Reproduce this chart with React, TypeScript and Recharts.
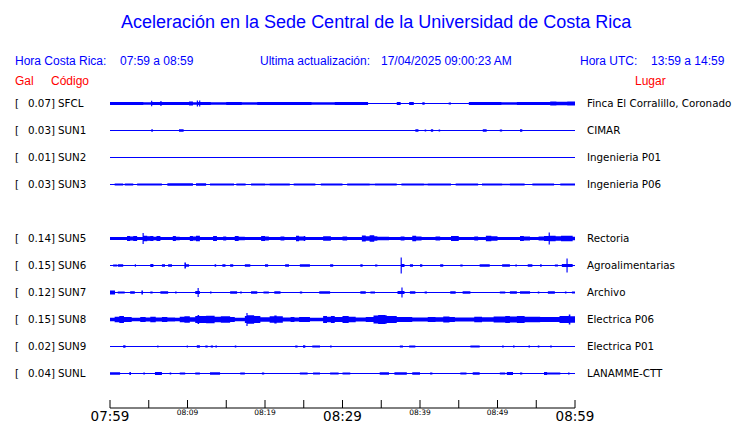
import { ComposedChart, Area, XAxis, YAxis } from "recharts";

// stations, top to bottom (SUN4 slot is left empty)
const codes = ["SFCL", "SUN1", "SUN2", "SUN3", "SUN5", "SUN6", "SUN7", "SUN8", "SUN9", "SUNL"];
const galPeaks = [0.07, 0.03, 0.01, 0.03, 0.14, 0.15, 0.12, 0.15, 0.02, 0.04];
const places = [
  "Finca El Corralillo, Coronado",
  "CIMAR",
  "Ingenieria P01",
  "Ingenieria P06",
  "Rectoria",
  "Agroalimentarias",
  "Archivo",
  "Electrica P06",
  "Electrica P01",
  "LANAMME-CTT",
];
const slots = [0, 1, 2, 3, 5, 6, 7, 8, 9, 10];

const timeTicks = [0, 5, 10, 15, 20, 25, 30, 35, 40, 45, 50, 55, 60];
const timeLabels = ["07:59", "", "08:09", "", "08:19", "", "08:29", "", "08:39", "", "08:49", "", "08:59"];

// trace envelopes: [minute where it changes, half amplitude]
const sfcl = [[0,1.5],[4.3,1.3],[5.3,2.8],[5.45,1.5],[6.5,2.6],[6.65,1.4],[10.2,1.9],[10.7,1.3],[11.2,3],[11.35,1.4],[11.5,3],[11.65,1.5],[13,1.2],[15,1.5],[17,1.3],[19,1.6],[21,1.4],[24,1.6],[26,1.3],[29,1.5],[31,1.4],[33.3,0.5],[37,1.4],[37.5,0.5],[38.6,1.6],[39.2,0.6],[40.3,1.2],[40.6,0.6],[43.7,1],[44,0.6],[46.3,1.4],[49,1.6],[50.5,1.3],[52.5,1.6],[56.8,2.1],[57.6,1.7],[59,2]];
const sun1 = [[0,0.5],[5.35,1.5],[5.5,0.5],[8.9,1.3],[9.5,0.5],[39.4,1.2],[39.8,0.5],[40.6,1],[40.8,0.5],[41.4,1.2],[41.7,0.5],[42.4,1],[42.6,0.5],[48.1,1.2],[48.6,0.5],[50.3,1],[50.6,0.5],[52.9,1.3],[53.2,0.5]];
const sun2 = [[0,0.5]];
const sun3 = [[0,0.6],[0.6,1],[1.7,0.6],[1.9,1],[3,0.6],[3.5,1],[6.7,0.6],[7.4,1.2],[10.7,0.6],[11.1,1.2],[12.4,0.6],[12.9,1],[16,0.6],[16.3,1],[17.5,0.6],[18.2,1],[20,0.7],[20.6,1.1],[23.2,0.6],[23.7,1],[26.5,0.6],[27.2,1.1],[30,0.6],[30.6,1],[33.5,0.7],[34.2,1],[37,0.6],[37.6,1.1],[40.5,0.7],[41,1],[44,0.6],[44.6,1.1],[47.5,0.6],[48,1],[50.6,0.7],[51.6,1],[53.5,0.6],[54.5,1.1],[57.3,0.6],[58.1,1]];
const sun5 = [[0,1.6],[2.2,2.6],[2.6,2],[3,2.6],[3.5,1.6],[4.2,5.5],[4.35,2.8],[4.8,2.2],[5.2,2.6],[5.6,1.8],[6,2.6],[6.5,1.6],[8.1,2.4],[8.5,1.8],[9,1.6],[10.3,2.6],[10.7,2],[11.1,2.7],[11.6,1.6],[13.3,2.4],[13.8,1.6],[14.6,2],[15,1.6],[16.1,2.4],[16.6,1.8],[17.4,1.6],[19.5,2.5],[20,1.9],[20.5,1.6],[22,2],[22.5,1.6],[24,2.7],[24.4,2],[25,2.4],[25.2,1.6],[27.5,2.3],[28.5,1.6],[30,2],[30.6,1.6],[32.5,3],[33,2.3],[33.5,3.2],[34.1,2.2],[34.5,1.8],[36,1.6],[37.5,2],[38,1.6],[39,2.8],[39.5,2],[40.2,1.6],[42,2],[42.6,1.6],[44,2.4],[45,1.6],[47,2],[47.5,1.6],[48.5,2.7],[49.2,2.2],[50,1.6],[52.9,2.6],[53.4,2],[54.2,1.6],[55.3,2.1],[56,2.4],[56.6,6],[56.75,2.8],[57.5,2.2],[58.2,2.8],[59.7,1.8]];
const sun6 = [[0,0.5],[0.4,1],[0.9,0.5],[1,1.3],[1.7,0.5],[3.2,1.2],[3.35,0.5],[5.2,1.5],[5.6,0.5],[6.7,1.2],[7.1,0.5],[7.5,1.2],[8,0.5],[9.6,3],[9.8,1.3],[10.2,0.5],[13.5,1.2],[13.7,0.5],[14.5,1.2],[14.9,0.5],[15.5,1.3],[15.9,0.5],[17.4,1.3],[18.1,0.5],[20,1.2],[20.4,0.5],[22.6,1.3],[23.1,0.5],[24.5,1.3],[25.8,0.5],[28.4,1.2],[28.8,0.5],[32.3,1.2],[32.6,0.5],[34.2,1],[34.5,0.5],[37.5,8],[37.65,1.5],[38,0.5],[38.7,1.3],[39.1,0.5],[40,1.2],[40.3,0.5],[42.6,1.2],[43,0.5],[45.2,1],[45.5,0.5],[47.7,1.3],[49,0.5],[50.6,1.3],[51.6,0.5],[52.3,1],[52.5,0.5],[53.9,1.3],[54.5,0.5],[55.5,1.2],[55.7,0.5],[57.4,1],[57.8,0.5],[58.3,1.5],[58.9,7],[59.05,1.5],[59.7,0.5]];
const sun7 = [[0,2],[0.65,0.5],[1,1],[1.9,0.5],[2.6,1.2],[3.2,0.5],[4.05,2],[4.25,0.5],[5.2,1],[5.5,0.5],[6.5,1.2],[7.5,0.5],[8.4,1],[8.6,0.5],[11,1.5],[11.3,4.5],[11.45,1.5],[11.6,0.5],[12.9,1],[13.1,0.5],[15.5,1.2],[16.4,0.5],[16.8,1],[17,0.5],[18.2,1.2],[19,0.5],[19.8,1],[20.5,0.5],[21.2,1.2],[22,0.5],[24.5,1],[24.8,0.5],[27,1.2],[28.4,0.5],[32.3,1.2],[33,0.5],[33.6,1],[34.2,0.5],[37.1,1.5],[37.6,5],[37.75,1.5],[38,0.5],[38.7,1.2],[39.4,0.5],[40.6,1],[40.9,0.5],[43.9,1.2],[44.6,0.5],[45.5,1.2],[46.5,0.5],[50.3,1],[51,0.5],[51.6,1.3],[52.5,0.5],[52.9,1.2],[54.2,0.5],[55.2,1],[55.4,0.5],[56.5,1.2],[57.4,0.5],[58.7,1],[58.9,0.5],[59.6,1]];
const sun8 = [[0,1.8],[0.6,2.8],[1.2,3.4],[1.8,2.6],[2.8,1.8],[3.9,2.6],[4.6,2.1],[5.2,2.8],[5.9,2],[6.7,2.6],[7.4,2.1],[8.4,1.8],[9,2.8],[9.6,3.3],[10.3,2.2],[11,3.6],[11.3,4.5],[11.5,3.4],[12.4,3.8],[13.5,2.8],[14.3,3.2],[15.5,2.4],[16.1,1.8],[17.4,3.5],[17.6,6.5],[17.75,4.2],[18.6,3.4],[19.4,2.3],[20.6,3.3],[21.2,4],[21.5,3.2],[22.3,2],[23.3,2.6],[23.8,2],[24.4,2.6],[25.8,1.8],[27.5,3.4],[28,2.8],[28.5,3.6],[29,2.4],[30,3.4],[30.8,2.8],[31.7,2],[33,2.4],[34,4],[34.6,4.6],[35.5,4.2],[35.7,3.4],[37,2.4],[39,2],[41,2.6],[42,2.2],[43,3],[43.8,2.6],[44.5,2.1],[47,2.8],[48,2.3],[49.5,3],[51,3.5],[51.6,3],[52.5,3.6],[53.5,2.8],[55.5,2.4],[58,3.4],[59.2,5],[59.4,3.2]];
const sun9 = [[0,0.5],[1.7,1.2],[2,0.5],[6.1,0.9],[6.25,0.5],[9.9,0.9],[10.05,0.5],[11.2,1.2],[11.6,0.5],[12.3,1],[12.6,0.5],[13,1],[13.3,0.5],[13.6,1],[13.8,0.5],[16.1,0.9],[16.3,0.5],[23.9,1],[24.2,0.5],[24.9,1.2],[25.2,0.5],[26.1,1],[27.1,0.5],[28.4,1],[28.6,0.5],[37.4,1],[37.8,0.5],[38.6,1],[39.4,0.5],[46.5,1.1],[47.7,0.5],[50.6,1],[50.8,0.5],[52,1],[52.2,0.5],[54,1],[54.2,0.5],[55.2,1],[55.4,0.5],[56.8,1],[57,0.5]];
const sunl = [[0,1.2],[1.3,0.5],[2.5,1.5],[2.7,0.5],[4.3,1],[4.5,0.5],[5.8,1.5],[6.7,0.5],[7.7,1],[7.9,0.5],[9,1],[9.7,0.5],[11,1],[11.6,0.5],[12.9,1.2],[14.2,0.5],[16.8,1],[17.4,0.5],[19.6,1],[19.9,0.5],[24.5,1.1],[25.5,0.5],[26.2,1.1],[27.1,0.5],[28.4,1],[29.5,0.5],[30,1.1],[31,0.5],[34.8,1.2],[36,0.5],[36.7,1.2],[38.3,0.5],[39,1.2],[40,0.5],[41.3,1],[41.6,0.5],[45.2,1.1],[46,0.5],[46.8,1.2],[47.7,0.5],[50.3,1],[51,0.5],[51.2,1.5],[52,0.5],[52.9,1],[53.2,0.5],[56,1.5],[56.4,1],[58.1,0.5],[59.1,1],[59.3,0.5]];

const traces = [sfcl, sun1, sun2, sun3, sun5, sun6, sun7, sun8, sun9, sunl];

const BLUE = "#0000ff";
const SPACING = 27;
const FIRST = 27.5;
const Y_MAX = 332;
const baselines = slots.map((s) => FIRST + SPACING * s);

function toPoints(segs: number[][], base: number) {
  const pts = segs.map(([t, a]) => ({ t, lo: base - a, hi: base + a }));
  const last = segs[segs.length - 1][1];
  pts.push({ t: 60, lo: base - last, hi: base + last });
  return pts;
}

const LeftTick = (props: any) => {
  const { x, y, payload } = props;
  const i = baselines.indexOf(payload.value);
  if (i < 0) return null;
  return (
    <g fontFamily="DejaVu Sans" fontSize={10.3} fill="#000">
      <text x={x - 95} y={y} dy="0.36em">[</text>
      <text x={x - 55} y={y} dy="0.36em" textAnchor="end">
        {galPeaks[i].toFixed(2)}]
      </text>
      <text x={x - 52} y={y} dy="0.36em">{codes[i]}</text>
    </g>
  );
};

const RightTick = (props: any) => {
  const { x, y, payload } = props;
  const i = baselines.indexOf(payload.value);
  if (i < 0) return null;
  return (
    <text x={x + 12} y={y} dy="0.36em" fontFamily="DejaVu Sans" fontSize={10.3} fill="#000">
      {places[i]}
    </text>
  );
};

const TimeTick = (props: any) => {
  const { x, y, payload } = props;
  const i = timeTicks.indexOf(payload.value);
  const label = timeLabels[i];
  const major = payload.value % 30 === 0;
  return (
    <g>
      <line x1={x} x2={x} y1={y - 8} y2={y} stroke="#000" />
      {label && (
        <text
          x={x}
          y={y}
          dy={major ? 12.5 : 6.8}
          textAnchor="middle"
          fontFamily="DejaVu Sans"
          fontSize={major ? 13.5 : 7.5}
          fill="#000"
        >
          {label}
        </text>
      )}
    </g>
  );
};

const txt = (left: number, top: number, size: number, color: string) => ({
  position: "absolute" as const,
  left,
  top,
  fontFamily: "Liberation Sans",
  fontSize: size,
  lineHeight: `${size}px`,
  color,
  whiteSpace: "nowrap" as const,
});

export default function App() {
  return (
    <div
      style={{
        position: "absolute",
        left: 0,
        top: 0,
        width: 740,
        height: 423,
        background: "#fff",
        overflow: "hidden",
      }}
    >
      <ComposedChart width={740} height={423} margin={{ top: 76, right: 0, bottom: 0, left: 0 }}>
        <XAxis
          type="number"
          dataKey="t"
          domain={[0, 60]}
          ticks={timeTicks}
          interval={0}
          tick={<TimeTick />}
          tickLine={false}
          tickSize={0}
          tickMargin={0}
          height={15}
          axisLine={{ stroke: "#000" }}
          allowDataOverflow
        />
        <YAxis
          yAxisId="l"
          type="number"
          domain={[0, Y_MAX]}
          reversed
          ticks={baselines}
          interval={0}
          tick={<LeftTick />}
          width={110}
          axisLine={false}
          tickLine={false}
          tickSize={0}
          tickMargin={0}
          allowDataOverflow
        />
        <YAxis
          yAxisId="r"
          orientation="right"
          type="number"
          domain={[0, Y_MAX]}
          reversed
          ticks={baselines}
          interval={0}
          tick={<RightTick />}
          width={165}
          axisLine={false}
          tickLine={false}
          tickSize={0}
          tickMargin={0}
          allowDataOverflow
        />
        {traces.map((segs, i) => (
          <Area
            key={codes[i]}
            yAxisId="l"
            data={toPoints(segs, baselines[i])}
            dataKey={(d: any) => [d.lo, d.hi]}
            type="stepAfter"
            stroke="none"
            fill={BLUE}
            fillOpacity={1}
            dot={false}
            activeDot={false}
            isAnimationActive={false}
          />
        ))}
      </ComposedChart>

      <div style={txt(121, 12.7, 18, BLUE)}>
        Aceleración en la Sede Central de la Universidad de Costa Rica
      </div>
      <div style={txt(15, 54.6, 12, BLUE)}>Hora Costa Rica:</div>
      <div style={txt(120, 54.6, 12, BLUE)}>07:59 a 08:59</div>
      <div style={txt(260, 54.6, 12, BLUE)}>Ultima actualización:</div>
      <div style={txt(381, 54.6, 12, BLUE)}>17/04/2025 09:00:23 AM</div>
      <div style={txt(580, 54.6, 12, BLUE)}>Hora UTC:</div>
      <div style={txt(651, 54.6, 12, BLUE)}>13:59 a 14:59</div>
      <div style={txt(15, 74.5, 12, "#ff0000")}>Gal</div>
      <div style={txt(51, 74.5, 12, "#ff0000")}>Código</div>
      <div style={txt(635, 74.5, 12, "#ff0000")}>Lugar</div>
    </div>
  );
}
